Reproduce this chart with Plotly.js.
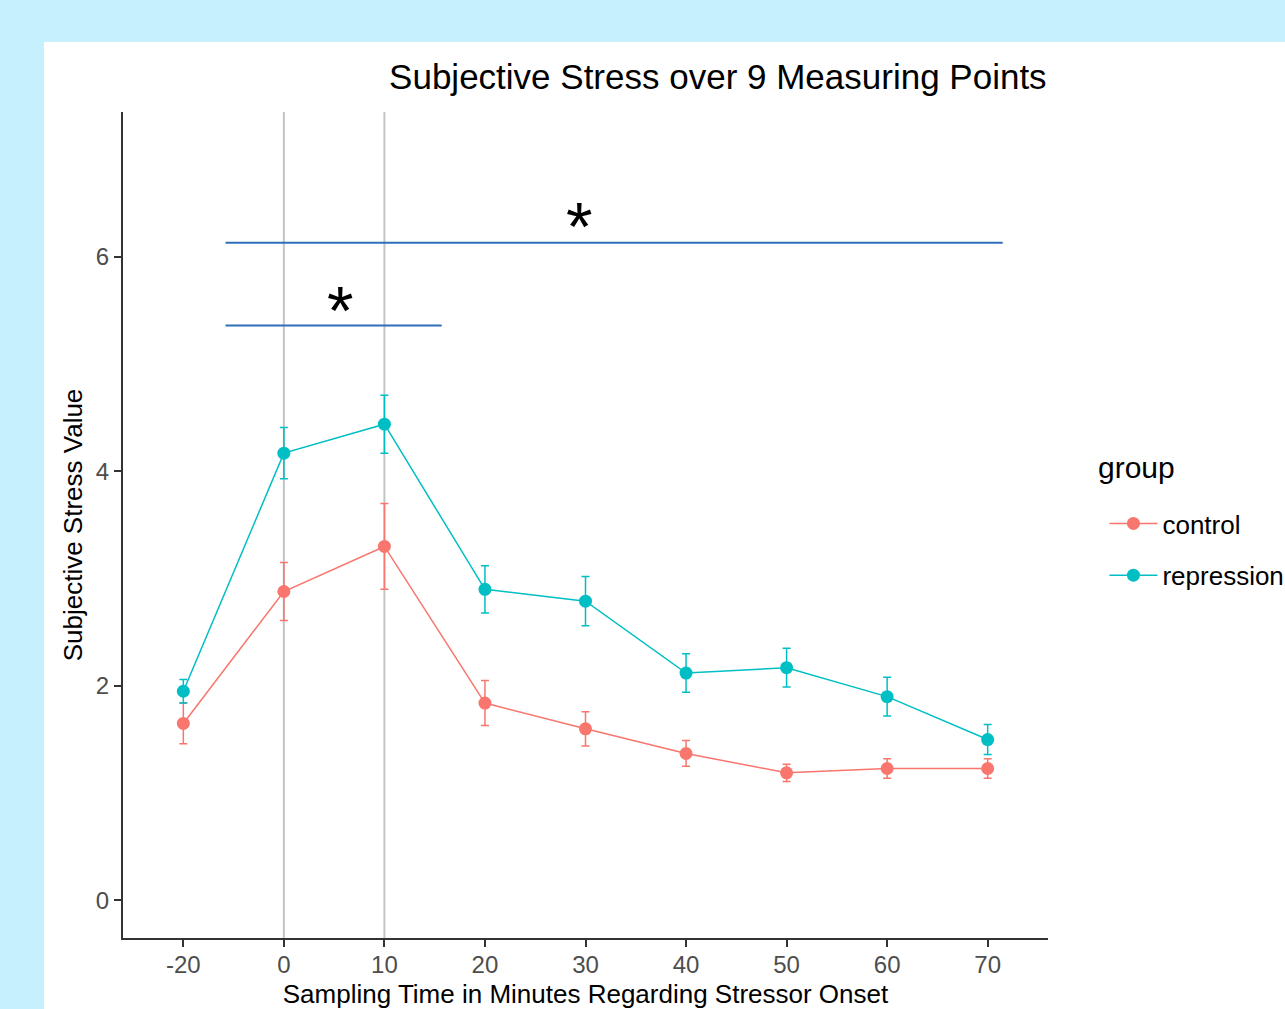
<!DOCTYPE html>
<html><head><meta charset="utf-8">
<script src="https://cdn.plot.ly/plotly-3.0.1.min.js"></script>
<style>
html,body{margin:0;padding:0;background:#c6f0fe;overflow:hidden;width:1285px;height:1009px}
#chart{position:absolute;left:44px;top:42px;width:1241px;height:990px;background:#fff}
</style></head>
<body><div id="chart"></div>
<script>
// Data
const times = ["-20","0","10","20","30","40","50","60","70"];
const controlMean = [1.65, 2.88, 3.30, 1.84, 1.60, 1.37, 1.19, 1.23, 1.23];
const controlErr  = [0.19, 0.27, 0.40, 0.21, 0.16, 0.12, 0.08, 0.09, 0.09];
const repressionMean = [1.95, 4.17, 4.44, 2.90, 2.79, 2.12, 2.17, 1.90, 1.50];
const repressionErr  = [0.11, 0.24, 0.27, 0.22, 0.23, 0.18, 0.18, 0.18, 0.14];
const yTicks = [0, 2, 4, 6];
// significance bars (positions in category-index units) and labels
const sigFrom = [0.42, 0.42];
const sigTo   = [8.15, 2.57];
const sigY    = [6.13, 5.36];
const sigStarX = [3.94, 1.56];
const sigStarY = [6.36, 5.58];
const sigLabel = ["*", "*"];
const markerLines = ["0", "10"];
const legendTitle = "group";

const idx = times.map((t, i) => i);
const FONT = "Liberation Sans, Arial, sans-serif";
const colControl = "#F8766D", colRep = "#00BFC4";

function trace(name, y, err, col) {
  return {
    type: "scatter", mode: "lines+markers", name: name,
    x: idx, y: y,
    line: {color: col, width: 1.5},
    marker: {color: col, size: 13},
    error_y: {type: "data", array: err, visible: true, color: col, thickness: 1.5, width: 4},
    legendgroup: name
  };
}

const data = [
  trace("control", controlMean, controlErr, colControl),
  trace("repression", repressionMean, repressionErr, colRep)
];

const shapes = [];
markerLines.forEach(t => {
  const i = times.indexOf(t);
  shapes.push({type: "line", xref: "x", yref: "paper", x0: i, x1: i, y0: 0, y1: 1,
    line: {color: "#c4c4c4", width: 2}, layer: "below"});
});
sigY.forEach((y, k) => {
  shapes.push({type: "line", xref: "x", yref: "y", x0: sigFrom[k], x1: sigTo[k], y0: y, y1: y,
    line: {color: "#2f6fba", width: 2}});
});

const annotations = sigLabel.map((s, k) => ({
  xref: "x", yref: "y", x: sigStarX[k], y: sigStarY[k], text: s, showarrow: false,
  xanchor: "center", yanchor: "middle", yshift: -8,
  font: {family: FONT, size: 68, color: "#000"}
}));
annotations.push({
  xref: "paper", yref: "paper", x: 1.052, y: 0.570, xanchor: "left", yanchor: "middle",
  text: legendTitle, showarrow: false, font: {family: FONT, size: 30, color: "#000"}
});

const H = 990;
const layout = {
  width: 1241, height: H,
  margin: {l: 79, r: 237, t: 70, b: H - 896},
  paper_bgcolor: "#ffffff", plot_bgcolor: "#ffffff",
  font: {family: FONT},
  title: {text: "Subjective Stress over 9 Measuring Points",
    font: {family: FONT, size: 35, color: "#000"},
    xref: "container", x: 0.543, xanchor: "center", yref: "container", y: 1 - 35 / H, yanchor: "middle"},
  xaxis: {
    range: [-0.6, 8.6], tickmode: "array", tickvals: idx, ticktext: times,
    showgrid: false, zeroline: false, showline: true, linecolor: "#333", linewidth: 2,
    ticks: "outside", ticklen: 7, tickwidth: 1.5, tickcolor: "#333", ticklabelstandoff: -3,
    tickfont: {family: FONT, size: 24, color: "#4d4d4d"},
    title: {text: "Sampling Time in Minutes Regarding Stressor Onset", font: {family: FONT, size: 26, color: "#000"}, standoff: 8}
  },
  yaxis: {
    range: [-0.35, 7.35], tickmode: "array", tickvals: yTicks,
    showgrid: false, zeroline: false, showline: true, linecolor: "#333", linewidth: 2,
    ticks: "outside", ticklen: 7, tickwidth: 1.5, tickcolor: "#333",
    tickfont: {family: FONT, size: 24, color: "#4d4d4d"},
    title: {text: "Subjective Stress Value", font: {family: FONT, size: 26, color: "#000"}, standoff: 6}
  },
  legend: {
    xref: "container", yref: "container",
    x: 0.8545, xanchor: "left", y: 1 - 458 / H, yanchor: "top",
    font: {family: FONT, size: 26, color: "#000"},
    tracegroupgap: 15, traceorder: "grouped", itemwidth: 48,
    bgcolor: "rgba(0,0,0,0)"
  },
  shapes: shapes,
  annotations: annotations
};

Plotly.newPlot("chart", data, layout, {displayModeBar: false, responsive: false});
</script></body></html>
